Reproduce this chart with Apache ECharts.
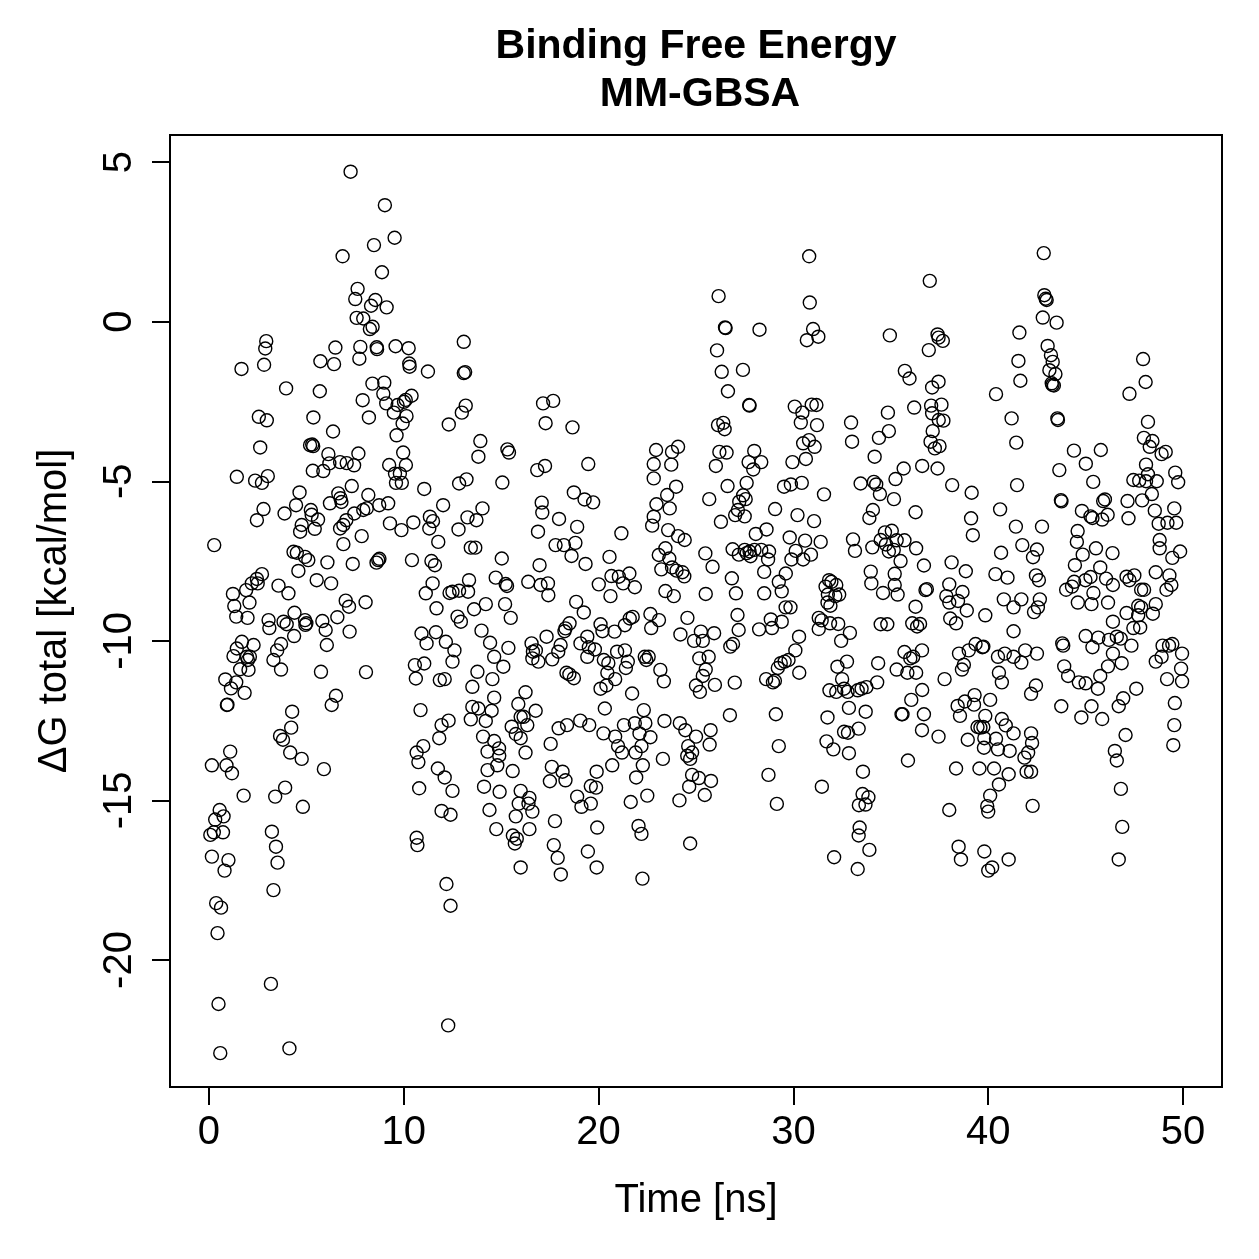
<!DOCTYPE html>
<html>
<head>
<meta charset="utf-8">
<title>Binding Free Energy MM-GBSA</title>
<script src="https://cdn.jsdelivr.net/npm/echarts@6/dist/echarts.min.js"></script>
<style>
  html, body { margin: 0; padding: 0; background: #fff; }
  #main { width: 1259px; height: 1259px; }
</style>
</head>
<body>
<div id="main"></div>
<script>
// points, [time ns, dG total kcal/mol], split by time window
var pts0to12 = [
  [7.27,4.70],[9.03,3.65],[9.53,2.63],[8.47,2.40],[6.86,2.05],[8.88,1.55],[7.63,1.03],[7.51,0.71],[8.54,0.68],[8.32,0.50],
  [9.12,0.45],[7.58,0.12],[7.92,0.10],[8.40,-0.16],[8.26,-0.23],[2.94,-0.61],[2.89,-0.84],[1.67,-1.48],[2.83,-1.35],[5.72,-1.24],
  [6.42,-1.33],[6.49,-0.81],[7.77,-0.79],[7.72,-1.16],[8.61,-0.80],[8.63,-0.86],[9.58,-0.77],[10.25,-0.83],[10.28,-1.31],[10.30,-1.41],
  [11.24,-1.56],[3.96,-2.09],[5.69,-2.18],[8.39,-1.94],[9.00,-1.91],[8.95,-2.26],[7.89,-2.46],[9.10,-2.56],[9.68,-2.61],[10.01,-2.51],
  [10.10,-2.45],[10.40,-2.32],[9.49,-2.85],[10.14,-2.96],[9.94,-3.19],[9.63,-3.56],[2.56,-2.98],[2.97,-3.09],[5.36,-3.00],[8.21,-3.00],
  [6.37,-3.44],[2.63,-3.94],[5.19,-3.87],[5.30,-3.85],[5.35,-3.90],[6.13,-4.15],[7.67,-4.13],[9.97,-4.10],[12.31,-3.22],
  [1.43,-4.86],[2.37,-4.98],[2.72,-5.05],[3.02,-4.84],[5.33,-4.67],[5.87,-4.68],[6.18,-4.44],[6.73,-4.40],[7.07,-4.43],[7.45,-4.50],
  [9.25,-4.49],[9.55,-4.76],[9.80,-4.76],[10.11,-4.49],[9.60,-5.05],[9.90,-5.05],[11.05,-5.24],[12.02,-5.75],[2.80,-5.87],[2.46,-6.22],
  [3.88,-6.01],[4.65,-5.35],[4.47,-5.75],[4.76,-6.37],[4.68,-6.58],[5.23,-5.90],[5.27,-6.05],[5.60,-6.20],[5.43,-6.49],[6.21,-5.69],
  [6.64,-5.38],[6.75,-5.53],[6.80,-5.65],[7.33,-5.15],[8.18,-5.43],[7.92,-5.90],[8.10,-5.85],[7.46,-6.01],[7.05,-6.22],[6.90,-6.37],
  [6.73,-6.48],[8.74,-5.75],[9.20,-5.69],[9.29,-6.32],[9.88,-6.53],[10.49,-6.29],[11.34,-6.11],[11.50,-6.25],[11.31,-6.48],[11.77,-6.90],
  [6.90,-6.97],[7.84,-6.72],[0.27,-7.00],[4.34,-7.21],[4.51,-7.24],[4.93,-7.37],[5.10,-7.47],[4.59,-7.81],[6.08,-7.54],[7.38,-7.59],
  [8.69,-7.47],[8.75,-7.43],[8.60,-7.55],[10.42,-7.47],[11.42,-7.50],[11.60,-7.63],[5.53,-8.10],[6.27,-8.20],[2.72,-7.91],[2.46,-8.06],
  [2.20,-8.20],[2.50,-8.20],[1.91,-8.41],[1.23,-8.53],[1.30,-8.91],[1.40,-9.24],[2.08,-8.80],[1.98,-9.28],[3.57,-8.27],[4.08,-8.51],
  [3.06,-9.35],[3.10,-9.60],[3.83,-9.40],[3.99,-9.48],[4.39,-9.12],[4.37,-9.85],[4.93,-9.35],[5.00,-9.45],[4.95,-9.50],[5.82,-9.38],
  [5.99,-9.66],[6.05,-10.13],[6.59,-9.26],[7.02,-8.74],[7.19,-8.93],[8.04,-8.79],[7.22,-9.71],[5.75,-10.97],[8.06,-10.98],[6.52,-11.72],
  [6.30,-12.01],[1.69,-10.03],[1.43,-10.24],[1.26,-10.48],[2.29,-10.13],[1.95,-10.50],[2.00,-10.60],[2.10,-10.50],[2.03,-10.91],[1.60,-10.89],
  [0.84,-11.21],[1.13,-11.49],[1.40,-11.30],[1.83,-11.63],[0.92,-12.01],[0.95,-12.00],[3.31,-10.60],[3.50,-10.30],[3.70,-10.10],[3.70,-10.90],
  [4.27,-12.22],[4.22,-12.72],[3.65,-12.98],[3.80,-13.10],[1.09,-13.47],[4.17,-13.50],[4.76,-13.70],[10.86,-12.17],[10.57,-10.76],[11.05,-10.71],
  [10.62,-11.18],[11.85,-11.23],[12.10,-11.20],[10.91,-9.77],[11.65,-9.73],[11.17,-10.08],[12.16,-10.03],[11.48,-8.20],[11.13,-8.51],[11.68,-8.98],
  [12.35,-8.50],[11.94,-12.64],[12.30,-12.50],[11.82,-13.05],[10.66,-13.50],[11.00,-13.30],[10.75,-13.80],
  [0.15,-13.90],[0.90,-13.90],[1.18,-14.15],[1.78,-14.85],[0.55,-15.30],[0.75,-15.50],[0.32,-15.60],[0.72,-16.00],[0.07,-16.08],[0.25,-16.00],
  [0.15,-16.76],[1.00,-16.87],[0.80,-17.20],[0.37,-18.22],[0.62,-18.36],[0.44,-19.16],[0.49,-21.38],[0.58,-22.92],[3.18,-20.75],[4.13,-22.77],
  [3.40,-14.88],[3.91,-14.60],[4.82,-15.20],[5.90,-14.02],[3.23,-15.98],[3.44,-16.45],[3.52,-16.95],[3.31,-17.81],[10.79,-14.62],[10.66,-16.17],
  [10.70,-16.40],[12.19,-17.62],[12.40,-18.30],[12.28,-22.05],[11.94,-15.33],[12.40,-15.45],[11.75,-14.00],[12.10,-14.28],[12.50,-14.70]
];
var pts12to25 = [
  [13.08,-0.63],[13.08,-1.61],[13.15,-1.58],[13.18,-2.63],[12.98,-2.85],[17.15,-2.56],[17.67,-2.48],[17.28,-3.18],[18.66,-3.31],[13.93,-3.74],
  [15.32,-4.00],[15.40,-4.10],[13.83,-4.23],[22.95,-4.02],[23.77,-4.08],[24.08,-3.92],
  [16.85,-4.65],[17.25,-4.52],[19.47,-4.46],[22.83,-4.46],[23.73,-4.48],[12.84,-5.07],[13.22,-4.94],[15.06,-5.04],[22.83,-4.91],[18.73,-5.35],
  [19.28,-5.57],[19.72,-5.66],[17.08,-5.67],[17.11,-5.98],[23.98,-5.17],[23.52,-5.43],[22.97,-5.72],[23.65,-5.85],[22.83,-6.11],[22.75,-6.39],
  [14.04,-5.85],[13.27,-6.13],[13.73,-6.22],[12.81,-6.51],[17.97,-6.18],[18.90,-6.43],[16.89,-6.58],[21.17,-6.63],[23.57,-6.53],[24.08,-6.72],
  [24.42,-6.84],[17.79,-7.00],[18.22,-7.00],[18.81,-6.93],[18.61,-7.34],[19.33,-7.59],[13.44,-7.08],[13.67,-7.08],[15.03,-7.42],[16.97,-7.63],
  [20.56,-7.37],[23.43,-7.10],[23.09,-7.31],[23.63,-7.42],[23.22,-7.76],[23.77,-7.70],[24.00,-7.80],[24.30,-7.85],[24.40,-7.98],[13.35,-8.10],
  [12.84,-8.43],[12.50,-8.46],[13.30,-8.46],[14.72,-8.02],[15.23,-8.22],[15.30,-8.28],[16.39,-8.15],[17.02,-8.25],[17.40,-8.20],[17.42,-8.57],
  [20.01,-8.23],[20.66,-7.97],[21.04,-7.99],[21.26,-8.20],[21.58,-7.89],[21.86,-8.32],[20.61,-8.60],[23.43,-8.44],[23.86,-8.60],[13.61,-9.01],
  [14.21,-8.85],[15.20,-8.85],[15.49,-9.28],[12.76,-9.24],[12.93,-9.40],[13.99,-9.68],[14.43,-10.06],[15.37,-10.22],[14.64,-10.50],[15.11,-10.81],
  [14.55,-11.20],[13.52,-11.44],[13.78,-10.97],[12.60,-10.30],[12.50,-10.65],[18.85,-8.78],[19.24,-9.11],[17.33,-9.87],[16.56,-10.08],[16.63,-10.34],
  [16.78,-10.30],[16.60,-10.55],[16.91,-10.65],[17.62,-10.58],[18.05,-10.13],[17.93,-10.34],[18.30,-9.61],[18.51,-9.45],[18.25,-9.70],[18.35,-11.00],
  [18.50,-11.05],[18.73,-11.17],[19.07,-10.08],[19.42,-9.87],[19.50,-10.20],[19.42,-10.50],[19.81,-10.27],[20.10,-9.48],[20.20,-9.70],[20.82,-9.71],
  [21.35,-9.51],[21.60,-9.30],[21.75,-9.25],[20.27,-10.60],[20.50,-10.70],[20.95,-10.34],[21.35,-10.30],[21.50,-10.65],[21.40,-10.85],[20.85,-11.20],
  [20.45,-11.00],[20.10,-11.50],[20.40,-11.40],[22.37,-10.50],[22.57,-10.50],[22.45,-10.60],[22.66,-9.16],[23.10,-9.35],[22.70,-9.60],[24.20,-9.80],
  [24.56,-9.28],[24.90,-10.00],[23.17,-10.91],[23.35,-11.27],[21.72,-11.65],[16.25,-11.61],[15.88,-11.98],[16.77,-12.19],[16.00,-12.38],[16.15,-12.38],
  [16.34,-12.64],[15.54,-12.69],[15.75,-12.92],[16.00,-13.05],[16.25,-13.50],[14.64,-11.78],[14.51,-12.19],[14.21,-12.51],[13.52,-12.07],[13.83,-12.12],
  [13.44,-12.46],[14.07,-13.00],[14.64,-13.14],[14.30,-13.47],[14.89,-13.37],[14.90,-13.60],[17.54,-13.23],[17.95,-12.74],[18.38,-12.64],[19.06,-12.50],
  [19.52,-12.64],[20.32,-12.12],[21.30,-12.64],[21.86,-12.58],[22.32,-12.17],[22.40,-12.58],[22.10,-12.90],[22.66,-13.02],[20.25,-12.90],[20.85,-13.00],
  [21.00,-13.30],[21.20,-13.50],[21.90,-13.50],[22.20,-13.30],[23.38,-12.51],[24.17,-12.58],[24.45,-12.80],[24.60,-13.30],[24.80,-13.50],[24.55,-13.60],
  [24.70,-13.70],[23.30,-13.70],
  [14.30,-14.05],[14.80,-13.90],[15.59,-14.08],[17.60,-13.95],[18.15,-14.10],[18.30,-14.37],[17.50,-14.40],[19.90,-14.10],[20.70,-13.90],[22.27,-13.90],
  [14.12,-14.57],[14.92,-14.73],[14.40,-15.30],[16.00,-14.70],[16.45,-14.92],[16.40,-15.10],[16.60,-15.35],[15.90,-15.10],[15.75,-15.50],[14.75,-15.90],
  [16.45,-15.90],[15.60,-16.10],[15.80,-16.20],[15.70,-16.35],[16.00,-17.10],[17.76,-15.65],[17.70,-16.40],[17.90,-16.80],[18.06,-17.32],[18.90,-14.88],
  [19.12,-15.20],[19.60,-15.10],[19.60,-14.55],[19.87,-14.60],[19.93,-15.85],[19.45,-16.60],[19.90,-17.10],[21.93,-14.28],[22.50,-14.85],[21.65,-15.05],
  [22.05,-15.80],[22.20,-16.05],[22.25,-17.45],[24.80,-14.20],[24.65,-14.57],[24.15,-15.00],[24.70,-16.35]
];
var pts25to37 = [
  [30.81,2.05],[37.00,1.28],[26.16,0.80],[30.84,0.60],[26.49,-0.18],[26.52,-0.20],[28.26,-0.25],[31.01,-0.23],[31.28,-0.47],[30.69,-0.58],
  [34.95,-0.43],[37.40,-0.40],[37.45,-0.50],[36.95,-0.89],[26.08,-0.90],[26.32,-1.57],[27.41,-1.51],[26.64,-2.18],[35.72,-1.54],[35.96,-1.78],
  [37.12,-2.06],[37.45,-1.88],[27.73,-2.61],[27.75,-2.63],[30.07,-2.66],[30.46,-2.85],[30.94,-2.60],[31.18,-2.61],[30.38,-3.16],[31.21,-3.24],
  [32.96,-3.16],[33.01,-3.76],[34.85,-2.85],[34.90,-3.43],[34.39,-3.64],[36.20,-2.69],[37.07,-2.63],[37.12,-2.87],[37.46,-3.08],[37.15,-3.43],
  [37.04,-3.76],[37.26,-3.97],[26.13,-3.24],[26.40,-3.17],[26.47,-3.37],[26.20,-4.08],[26.57,-4.10],[27.99,-4.05],[27.70,-4.40],[28.35,-4.40],
  [29.95,-4.40],[30.80,-3.71],[30.50,-3.81],[31.09,-3.92],[30.64,-4.30],[34.17,-4.23],
  [26.02,-4.52],[27.94,-4.63],[26.62,-5.15],[25.68,-5.56],[26.28,-6.27],[27.60,-5.05],[27.22,-5.64],[27.42,-5.44],[27.55,-5.56],[27.01,-6.06],
  [27.15,-5.90],[27.50,-6.10],[29.06,-5.87],[29.52,-5.17],[29.87,-5.10],[30.43,-5.05],[31.57,-5.41],[30.21,-6.06],[31.06,-6.25],[33.45,-5.07],
  [34.13,-5.02],[34.25,-5.10],[34.44,-5.40],[35.24,-4.93],[35.66,-4.60],[36.61,-4.52],[37.40,-4.60],[35.16,-5.56],[34.08,-5.90],[33.90,-6.15],
  [36.27,-5.97],[28.07,-6.65],[28.62,-6.51],[26.88,-7.13],[27.20,-7.30],[27.50,-7.15],[27.60,-7.25],[27.75,-7.20],[27.80,-7.35],[28.00,-7.15],
  [28.35,-7.15],[28.75,-7.20],[28.70,-7.45],[28.50,-7.84],[25.48,-7.26],[25.85,-7.68],[26.84,-8.04],[27.05,-8.51],[25.50,-8.53],[29.81,-6.76],
  [30.60,-6.86],[31.40,-6.90],[30.12,-7.18],[29.90,-7.45],[30.50,-7.45],[30.90,-7.30],[29.61,-7.89],[29.25,-8.15],[29.40,-8.45],[28.50,-8.51],
  [33.06,-6.82],[33.16,-7.18],[34.05,-7.07],[34.48,-6.84],[34.70,-6.60],[35.05,-6.55],[34.75,-6.98],[34.90,-7.20],[35.30,-6.85],[35.70,-6.85],
  [35.15,-7.15],[35.50,-7.50],[36.30,-7.10],[36.70,-7.64],[33.97,-7.83],[34.00,-8.20],[34.60,-8.50],[35.20,-7.90],[35.20,-8.25],[35.35,-8.55],
  [36.78,-8.41],[36.85,-8.38],[36.27,-8.93],[36.10,-9.45],[36.50,-9.47],[36.35,-9.55],[31.83,-8.10],[31.65,-8.30],[31.95,-8.15],[32.20,-8.25],
  [31.77,-8.55],[32.15,-8.60],[32.35,-8.55],[31.75,-8.80],[31.90,-8.90],[31.30,-9.28],[31.45,-9.36],[31.30,-9.63],[31.88,-9.45],[32.30,-9.47],
  [32.90,-9.75],[32.45,-10.00],[34.48,-9.48],[34.82,-9.48],[27.13,-9.19],[27.19,-9.66],[28.24,-9.64],[28.84,-9.33],[28.90,-9.60],[29.40,-9.40],
  [29.60,-8.95],[29.85,-8.95],[25.25,-9.71],[25.93,-9.76],[25.35,-10.00],[26.76,-10.18],[26.90,-10.10],[25.17,-10.55],[25.65,-10.50],[25.50,-10.90],
  [25.35,-11.10],[25.97,-11.38],[25.20,-11.60],[25.00,-11.40],[26.99,-11.31],[30.29,-9.87],[30.10,-10.30],[29.75,-10.60],[29.55,-10.65],[29.35,-10.70],
  [29.20,-10.85],[30.30,-11.00],[28.60,-11.20],[28.95,-11.30],[29.05,-11.25],[32.26,-10.81],[32.75,-10.65],[32.50,-11.20],[32.60,-11.50],[32.20,-11.60],
  [31.85,-11.55],[32.78,-11.60],[32.85,-12.10],[33.30,-11.55],[33.50,-11.50],[33.75,-11.45],[34.30,-11.30],[34.35,-10.70],[35.30,-10.90],[35.85,-11.00],
  [36.30,-11.00],[36.15,-10.50],[36.00,-10.55],[35.70,-10.35],[36.60,-10.30],[36.61,-11.54],[36.05,-11.85],[35.55,-12.30],[35.60,-12.30],[36.70,-12.30],
  [36.60,-12.80],[33.71,-12.22],[33.35,-12.75],[32.60,-12.85],[32.80,-12.88],[31.70,-13.15],[32.05,-13.40],[32.85,-13.52],[31.75,-12.40],[26.74,-12.33],
  [25.75,-12.80],[25.70,-13.25],[25.00,-13.00],[29.10,-12.30],[29.25,-13.30],[35.88,-13.75],[37.45,-13.00],
  [25.15,-14.30],[25.77,-14.39],[25.45,-14.83],[28.72,-14.20],[29.15,-15.11],[31.46,-14.57],[33.57,-14.10],[33.55,-14.80],[33.85,-14.90],[33.36,-15.15],
  [33.70,-15.13],[33.40,-15.85],[33.35,-16.10],[33.90,-16.55],[32.09,-16.78],[33.30,-17.15]
];
var pts37to50 = [
  [42.85,2.15],[42.88,0.83],[42.95,0.72],[43.00,0.68],[42.80,0.13],[43.51,-0.03],[41.60,-0.34],[41.55,-1.23],[41.65,-1.85],[40.40,-2.27],
  [41.20,-3.03],[41.44,-3.79],[43.05,-0.76],[43.22,-1.05],[43.31,-1.26],[43.14,-1.52],[43.45,-1.64],[43.26,-1.93],[43.37,-2.00],[43.30,-1.98],
  [43.55,-3.03],[43.58,-3.08],[44.40,-4.04],[45.78,-4.02],[47.95,-1.17],[48.08,-1.89],[47.25,-2.26],[48.20,-3.14],[47.99,-3.64],[48.43,-3.74],
  [48.29,-3.92],[49.11,-4.08],[48.90,-4.15],[37.67,-0.60],[37.60,-2.60],[37.70,-3.10],[37.50,-3.90],
  [38.15,-5.12],[39.15,-5.36],[39.12,-6.16],[39.21,-6.69],[40.61,-5.88],[41.48,-5.12],[41.42,-6.42],[42.76,-6.42],[43.65,-4.65],[45.01,-4.45],
  [45.39,-5.02],[43.73,-5.59],[43.76,-5.63],[44.81,-5.93],[45.25,-6.10],[45.35,-6.15],[45.99,-5.57],[45.90,-5.62],[46.13,-6.05],[45.85,-6.20],
  [47.15,-5.62],[47.20,-6.16],[47.45,-4.96],[47.75,-4.98],[47.90,-5.60],[48.10,-5.00],[48.20,-4.78],[48.10,-4.48],[48.65,-5.00],[49.60,-4.73],
  [49.75,-5.03],[48.40,-5.40],[48.55,-5.92],[48.75,-6.33],[49.20,-6.30],[49.65,-6.30],[49.55,-5.85],[48.80,-6.84],[48.80,-7.10],[49.45,-7.40],
  [49.85,-7.20],[40.66,-7.24],[41.75,-7.00],[42.50,-7.14],[42.30,-7.38],[44.59,-6.56],[44.55,-6.90],[44.85,-7.30],[45.53,-7.10],[46.38,-7.25],
  [44.45,-7.63],[45.75,-7.70],[38.12,-7.54],[38.85,-7.82],[38.00,-8.23],[38.68,-8.47],[37.85,-8.60],[38.00,-8.80],[38.45,-8.75],[38.90,-9.05],
  [38.05,-9.30],[38.35,-9.45],[39.85,-9.20],[40.37,-7.91],[40.99,-8.02],[40.80,-8.70],[41.30,-8.95],[41.70,-8.70],[42.60,-8.10],[42.45,-7.95],
  [42.65,-8.70],[42.55,-8.95],[42.35,-9.10],[41.30,-9.70],[44.41,-8.15],[44.00,-8.40],[44.30,-8.30],[44.99,-8.10],[45.25,-8.00],[45.40,-8.50],
  [46.05,-8.05],[46.40,-8.25],[44.60,-8.80],[45.30,-8.85],[46.15,-8.80],[47.10,-7.99],[47.25,-8.10],[47.50,-7.95],[47.85,-8.40],[48.00,-8.40],
  [48.60,-7.85],[49.30,-7.95],[49.40,-8.25],[49.15,-8.40],[48.60,-8.85],[48.45,-9.15],[47.10,-9.13],[47.70,-8.90],[47.85,-8.95],[47.70,-9.20],
  [47.45,-9.60],[47.80,-9.58],[46.40,-9.40],[46.20,-9.97],[46.60,-9.87],[46.80,-9.93],[47.35,-10.15],[45.65,-9.90],[45.35,-10.20],[45.00,-9.85],
  [43.80,-10.08],[43.85,-10.15],[43.90,-10.80],[44.10,-11.10],[44.65,-11.30],[45.00,-11.33],[45.63,-11.50],[45.75,-11.10],[46.15,-10.80],[46.85,-10.70],
  [46.40,-10.40],[47.60,-11.50],[46.93,-11.80],[46.70,-12.05],[45.30,-12.05],[44.78,-12.40],[45.85,-12.45],[43.75,-12.05],[48.60,-10.65],[48.90,-10.50],
  [49.28,-10.15],[49.45,-10.10],[48.95,-10.15],[49.95,-10.40],[49.90,-10.87],[49.95,-11.27],[49.18,-11.20],[49.58,-11.95],[49.55,-12.64],[49.50,-13.27],
  [47.05,-12.95],[46.50,-13.45],[46.60,-13.75],[37.76,-11.20],[38.50,-10.40],[38.75,-10.75],[38.65,-10.90],[39.00,-10.30],[39.35,-10.10],[39.70,-10.20],
  [39.75,-10.18],[40.50,-10.50],[40.85,-10.40],[41.30,-10.50],[41.70,-10.68],[41.90,-10.30],[42.50,-10.40],[40.55,-11.00],[40.70,-11.30],[42.45,-11.40],
  [42.20,-11.66],[38.43,-12.04],[38.80,-11.90],[39.30,-11.70],[39.27,-12.00],[38.55,-12.35],[40.10,-11.85],[39.85,-12.35],[39.45,-12.70],[39.60,-12.72],
  [39.75,-12.70],[39.80,-13.05],[39.78,-13.35],[40.70,-12.45],[40.90,-12.65],[41.30,-12.90],[40.40,-13.07],[40.50,-13.40],[41.10,-13.45],[42.20,-12.90],
  [42.25,-13.20],[42.05,-13.50],[41.86,-13.66],[38.95,-13.10],[38.35,-14.00],[39.55,-14.00],[40.30,-14.00],
  [41.05,-14.18],[40.55,-14.50],[40.10,-14.85],[39.95,-15.18],[40.00,-15.35],[38.00,-15.30],[41.97,-14.10],[42.20,-14.10],[42.28,-15.17],[38.48,-16.45],
  [38.60,-16.85],[39.80,-16.60],[40.00,-17.20],[40.20,-17.10],[41.05,-16.85],[46.81,-14.64],[46.88,-15.83],[46.70,-16.85]
];

var xTicks = [0, 10, 20, 30, 40, 50];
var yTicks = [-20, -15, -10, -5, 0, 5];
var titleLines = ['Binding Free Energy', 'MM-GBSA'];

var allPoints = pts0to12.concat(pts12to25, pts25to37, pts37to50);

var font = 'Liberation Sans, Arial, Helvetica, sans-serif';
var chartDom = document.getElementById('main');
var myChart = echarts.init(chartDom);

var option = {
  animation: false,
  backgroundColor: '#fff',
  graphic: [
    { type: 'text', x: 696, y: 47, style: { text: titleLines[0], font: 'bold 41px ' + font, fill: '#000', align: 'center', verticalAlign: 'middle' } },
    { type: 'text', x: 700, y: 95, style: { text: titleLines[1], font: 'bold 41px ' + font, fill: '#000', align: 'center', verticalAlign: 'middle' } }
  ],
  grid: {
    left: 170, right: 37, top: 135, bottom: 172,
    show: true, borderColor: '#000', borderWidth: 2, backgroundColor: 'transparent'
  },
  xAxis: {
    type: 'value',
    min: -2, max: 52,
    name: 'Time [ns]',
    nameLocation: 'middle',
    nameGap: 94,
    nameTextStyle: { fontFamily: font, fontSize: 40, color: '#000' },
    axisLine: { show: false, onZero: false },
    axisTick: { show: true, customValues: xTicks, length: 18, lineStyle: { color: '#000', width: 2 } },
    axisLabel: { customValues: xTicks, margin: 26, fontFamily: font, fontSize: 40, color: '#000' },
    splitLine: { show: false }
  },
  yAxis: {
    type: 'value',
    min: -23.98, max: 5.85,
    name: 'ΔG total [kcal/mol]',
    nameLocation: 'middle',
    nameGap: 95,
    nameTextStyle: { fontFamily: font, fontSize: 40, color: '#000' },
    axisLine: { show: false, onZero: false },
    axisTick: { show: true, customValues: yTicks, length: 18, lineStyle: { color: '#000', width: 2 } },
    axisLabel: { customValues: yTicks, rotate: 90, margin: 30, fontFamily: font, fontSize: 40, color: '#000' },
    splitLine: { show: false }
  },
  series: [
    {
      name: 'dG',
      type: 'scatter',
      data: allPoints,
      symbol: 'circle',
      symbolSize: 13,
      itemStyle: { color: 'rgba(0,0,0,0)', borderColor: '#000', borderWidth: 1.4, opacity: 1 },
      emphasis: { disabled: true }
    }
  ]
};

myChart.setOption(option);
</script>
</body>
</html>
